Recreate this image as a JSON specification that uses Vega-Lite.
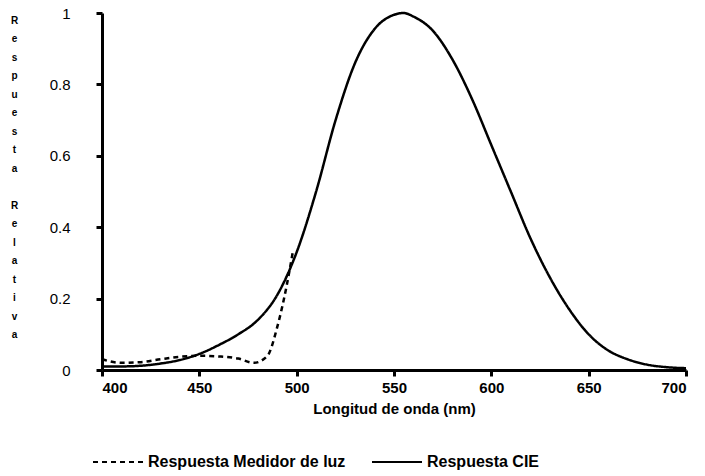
{
  "$schema": "https://vega.github.io/schema/vega-lite/v6.json",
  "width": 584,
  "height": 357,
  "autosize": "none",
  "padding": {"left": 102, "top": 13, "right": 19, "bottom": 106},
  "background": "white",
  "config": {"view": {"stroke": null}, "font": "Liberation Sans"},
  "data": {"values": [
    {"nm": 400, "r": 0.01, "s": "Respuesta CIE"},
    {"nm": 410, "r": 0.01, "s": "Respuesta CIE"},
    {"nm": 420, "r": 0.012, "s": "Respuesta CIE"},
    {"nm": 430, "r": 0.018, "s": "Respuesta CIE"},
    {"nm": 440, "r": 0.028, "s": "Respuesta CIE"},
    {"nm": 450, "r": 0.045, "s": "Respuesta CIE"},
    {"nm": 460, "r": 0.07, "s": "Respuesta CIE"},
    {"nm": 470, "r": 0.1, "s": "Respuesta CIE"},
    {"nm": 480, "r": 0.14, "s": "Respuesta CIE"},
    {"nm": 490, "r": 0.21, "s": "Respuesta CIE"},
    {"nm": 500, "r": 0.33, "s": "Respuesta CIE"},
    {"nm": 510, "r": 0.5, "s": "Respuesta CIE"},
    {"nm": 520, "r": 0.7, "s": "Respuesta CIE"},
    {"nm": 530, "r": 0.86, "s": "Respuesta CIE"},
    {"nm": 540, "r": 0.955, "s": "Respuesta CIE"},
    {"nm": 550, "r": 0.995, "s": "Respuesta CIE"},
    {"nm": 555, "r": 1.0, "s": "Respuesta CIE"},
    {"nm": 560, "r": 0.99, "s": "Respuesta CIE"},
    {"nm": 570, "r": 0.95, "s": "Respuesta CIE"},
    {"nm": 580, "r": 0.87, "s": "Respuesta CIE"},
    {"nm": 590, "r": 0.76, "s": "Respuesta CIE"},
    {"nm": 600, "r": 0.63, "s": "Respuesta CIE"},
    {"nm": 610, "r": 0.5, "s": "Respuesta CIE"},
    {"nm": 620, "r": 0.37, "s": "Respuesta CIE"},
    {"nm": 630, "r": 0.26, "s": "Respuesta CIE"},
    {"nm": 640, "r": 0.17, "s": "Respuesta CIE"},
    {"nm": 650, "r": 0.1, "s": "Respuesta CIE"},
    {"nm": 660, "r": 0.055, "s": "Respuesta CIE"},
    {"nm": 670, "r": 0.03, "s": "Respuesta CIE"},
    {"nm": 680, "r": 0.015, "s": "Respuesta CIE"},
    {"nm": 690, "r": 0.008, "s": "Respuesta CIE"},
    {"nm": 700, "r": 0.005, "s": "Respuesta CIE"},
    {"nm": 400, "r": 0.03, "s": "Respuesta Medidor de luz"},
    {"nm": 410, "r": 0.02, "s": "Respuesta Medidor de luz"},
    {"nm": 420, "r": 0.022, "s": "Respuesta Medidor de luz"},
    {"nm": 430, "r": 0.03, "s": "Respuesta Medidor de luz"},
    {"nm": 440, "r": 0.037, "s": "Respuesta Medidor de luz"},
    {"nm": 450, "r": 0.04, "s": "Respuesta Medidor de luz"},
    {"nm": 460, "r": 0.038, "s": "Respuesta Medidor de luz"},
    {"nm": 470, "r": 0.032, "s": "Respuesta Medidor de luz"},
    {"nm": 478, "r": 0.02, "s": "Respuesta Medidor de luz"},
    {"nm": 485, "r": 0.04, "s": "Respuesta Medidor de luz"},
    {"nm": 490, "r": 0.12, "s": "Respuesta Medidor de luz"},
    {"nm": 495, "r": 0.24, "s": "Respuesta Medidor de luz"},
    {"nm": 498, "r": 0.33, "s": "Respuesta Medidor de luz"}
  ]},
  "mark": {"type": "line", "color": "black", "strokeWidth": 2.5, "interpolate": "monotone"},
  "encoding": {
    "x": {"field": "nm", "type": "quantitative", "scale": {"domain": [400, 700], "nice": false},
      "axis": {"values": [400, 450, 500, 550, 600, 650, 700], "grid": false, "title": "Longitud de onda (nm)",
        "titleFontSize": 15, "titleFontWeight": "bold", "labelFontSize": 15, "labelFontWeight": "bold",
        "domainColor": "black", "domainWidth": 3, "tickColor": "black", "tickWidth": 3, "tickSize": 6,
        "labelColor": "black", "titleColor": "black", "labelPadding": 4, "titlePadding": 6}},
    "y": {"field": "r", "type": "quantitative", "scale": {"domain": [0, 1], "nice": false},
      "axis": {"values": [0, 0.2, 0.4, 0.6, 0.8, 1], "grid": false, "labelExpr": "datum.value == 0 ? '0' : datum.value == 1 ? '1' : format(datum.value, '.1f')",
        "title": ["R","e","s","p","u","e","s","t","a","\u200b","R","e","l","a","t","i","v","a"],
        "titleAngle": 0, "titleFontSize": 10, "titleFontWeight": "bold", "titleLineHeight": 18.5,
        "titleX": -88, "titleY": 2, "titleAlign": "center", "titleBaseline": "top",
        "labelFontSize": 15, "labelFontWeight": "normal", "labelPadding": 26, "domainColor": "black", "domainWidth": 3,
        "tickColor": "black", "tickWidth": 3, "tickSize": 6, "labelColor": "black", "titleColor": "black"}},
    "strokeDash": {"field": "s", "type": "nominal",
      "scale": {"domain": ["Respuesta Medidor de luz", "Respuesta CIE"], "range": [[5, 4], [1, 0]]},
      "legend": {"orient": "none", "legendX": -10, "legendY": 423, "direction": "horizontal", "title": null,
        "symbolType": "stroke", "symbolSize": 2500, "symbolStrokeWidth": 2, "symbolStrokeColor": "black",
        "labelFontSize": 16, "labelFontWeight": "bold", "labelColor": "black", "labelLimit": 400, "columnPadding": 22}}
  }
}
